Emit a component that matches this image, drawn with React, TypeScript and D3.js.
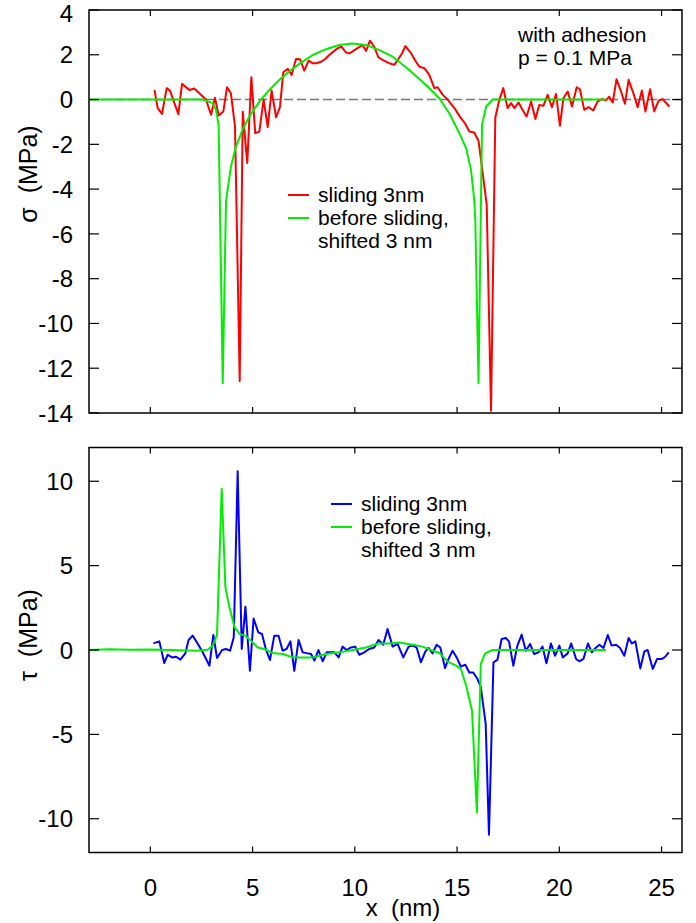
import React from 'react';
import * as d3 from 'd3';

// sigma panel (x in nm, value in MPa)
const sigmaSliding: [number, number][] = [
  [0.2, 0.43], [0.36, -0.38], [0.57, -0.64], [0.8, 0.51], [0.96, 0.4], [1.37, -0.65], [1.55, 0.7],
  [1.91, 0.43], [2.15, 0.49], [2.72, 0], [2.97, -0.68], [3.16, 0.08], [3.34, -0.71], [3.57, -0.53],
  [3.75, 0.55], [3.94, 0.28], [4.14, -1.2], [4.37, -12.57], [4.52, -0.55], [4.74, -2.83], [4.94, 1.0],
  [5.13, -1.5], [5.33, -1.43], [5.54, 0], [5.74, -1.23], [5.93, 0.4], [6.15, -0.79], [6.34, -0.34],
  [6.5, 1.22], [6.72, 1.37], [6.91, 1.1], [7.12, 1.81], [7.32, 1.8], [7.53, 1.29], [7.74, 1.74],
  [7.94, 1.62], [8.13, 1.62], [8.35, 1.69], [8.54, 1.8], [8.75, 1.99], [8.95, 2.14], [9.16, 2.29],
  [9.35, 2.36], [9.57, 2.1], [9.76, 2.07], [9.98, 2.21], [10.17, 2.32], [10.38, 2.44], [10.55, 2.17],
  [10.74, 2.63], [10.95, 2.36], [11.15, 1.89], [11.36, 1.77], [11.69, 1.62], [11.93, 1.55], [12.1, 1.77],
  [12.31, 2.07], [12.47, 2.39], [12.75, 2.07], [12.99, 1.69], [13.15, 1.47], [13.4, 1.4], [13.64, 1.1],
  [13.89, 0.51], [14.05, 0.55], [14.3, 0.21], [14.54, 0], [14.87, -0.38], [15.11, -0.73], [15.4, -1.08],
  [15.6, -1.43], [15.84, -1.47], [16.05, -1.85], [16.2, -2.9], [16.45, -4.7], [16.66, -13.9],
  [16.87, -0.8], [17.07, 0], [17.26, 0.51], [17.47, -0.38], [17.64, -0.16], [17.8, -0.38], [18.01, -0.13],
  [18.2, -0.46], [18.4, -0.76], [18.62, -0.09], [18.83, -0.87], [19.02, -0.24], [19.22, -0.28],
  [19.43, 0.21], [19.64, -0.34], [19.84, 0.25], [20.03, -1.17], [20.2, 0.06], [20.41, 0.36],
  [20.62, -0.31], [20.85, 0.55], [21.01, 0.46], [21.22, -0.46], [21.43, -0.34], [21.66, -0.49],
  [21.87, -0.09], [22.09, 0.02], [22.28, -0.04], [22.44, 0.13], [22.61, -0.13], [22.8, 0.91],
  [23.02, 0.36], [23.21, -0.19], [23.39, 0.88], [23.62, 0.29], [23.83, -0.34], [24.04, 0.4],
  [24.21, -0.53], [24.44, 0.46], [24.64, -0.53], [24.86, -0.04], [25.05, 0.02], [25.38, -0.31],
];

const sigmaBefore: [number, number][] = [
  [-3, 0], [2.56, 0], [3.05, -0.16], [3.21, -0.46], [3.34, -1.13], [3.54, -12.67], [3.7, -4.55],
  [3.94, -2.99], [4.19, -2.09], [4.51, -1.35], [4.84, -0.76], [5.0, -0.53], [5.41, 0], [5.82, 0.43],
  [6.31, 0.88], [6.88, 1.32], [7.37, 1.65], [7.94, 1.99], [8.59, 2.25], [9.24, 2.44], [9.89, 2.5],
  [10.55, 2.44], [11.2, 2.21], [11.85, 1.92], [12.66, 1.32], [13.48, 0.65], [14.13, 0.06],
  [14.62, -0.61], [15.11, -1.5], [15.44, -2.17], [15.68, -3.13], [15.84, -4.47], [15.89, -5.36],
  [16.05, -12.67], [16.22, -1.13], [16.42, -0.31], [16.74, 0], [22.3, 0],
];

// tau panel
const tauSliding: [number, number][] = [
  [0.15, 0.39], [0.44, 0.51], [0.68, -0.77], [0.85, -0.28], [1.06, -0.44], [1.26, -0.4], [1.47, -0.57],
  [1.71, -0.2], [1.87, 0.59], [2.07, 0.85], [2.31, 0.39], [2.52, -0.04], [2.69, -0.44], [2.89, -0.93],
  [3.08, 0.89], [3.26, -0.47], [3.51, 0], [3.7, 0.06], [3.9, -0.04], [4.08, 0.75], [4.27, 10.59],
  [4.47, 0.06], [4.65, 2.57], [4.87, -1.23], [5.05, 1.87], [5.28, 1.04], [5.46, 0.95], [5.66, 0],
  [5.85, -0.59], [6.06, 0.85], [6.27, 0.85], [6.47, -0.04], [6.66, 0.06], [6.85, 0.51], [7.04, -1.23],
  [7.25, 0.59], [7.45, -0.14], [7.69, -0.2], [7.86, -0.24], [8.02, -0.63], [8.22, 0], [8.43, -0.67],
  [8.62, -0.14], [8.83, -0.14], [9.0, -0.14], [9.21, -0.44], [9.4, 0.2], [9.6, 0], [9.81, 0.15],
  [10.02, 0.2], [10.22, -0.28], [10.46, -0.14], [10.7, 0.06], [10.95, 0.15], [11.16, 0.59],
  [11.39, 0.31], [11.6, 1.24], [11.85, 0.2], [12.09, 0.36], [12.37, -0.44], [12.63, 0.2], [12.82, 0.26],
  [13.02, 0.16], [13.23, -0.73], [13.45, -0.08], [13.61, 0.12], [13.8, -0.2], [14.0, 0.31], [14.18, 0.15],
  [14.41, -1.07], [14.58, -0.53], [14.78, -0.04], [14.98, -0.44], [15.19, -0.99], [15.4, -0.87],
  [15.6, -1.33], [15.79, -1.33], [16.0, -1.72], [16.16, -2.18], [16.4, -4.39], [16.56, -10.95],
  [16.78, -0.73], [16.97, -0.59], [17.18, 0.65], [17.38, 0.71], [17.54, 0.51], [17.75, -0.93],
  [17.95, 0.26], [18.16, 0.91], [18.36, -0.04], [18.57, 0.36], [18.77, -0.24], [18.98, -0.14],
  [19.18, 0.2], [19.37, -0.79], [19.59, 0.39], [19.79, -0.34], [20.0, 0.26], [20.17, -0.44],
  [20.41, -0.2], [20.58, 0.39], [20.82, -0.53], [20.98, -0.67], [21.18, -0.53], [21.4, 0.39],
  [21.59, -0.14], [21.77, 0.12], [21.96, 0.31], [22.16, 0.12], [22.37, 0.89], [22.56, 0.26],
  [22.78, 0.31], [22.97, 0.12], [23.18, -0.34], [23.39, 0.71], [23.55, 0.39], [23.72, 0.51],
  [23.96, -1.09], [24.16, -0.08], [24.32, 0], [24.57, -1.13], [24.78, -0.53], [25.02, -0.53],
  [25.18, -0.4], [25.35, -0.14],
];

const tauBefore: [number, number][] = [
  [-3, 0], [-2, 0.05], [-1, 0.02], [0, 0.03], [1, 0], [2.23, -0.04], [2.8, 0.02], [3.05, 0.26],
  [3.26, 0.89], [3.49, 9.54], [3.67, 3.71], [3.87, 2.53], [4.12, 1.34], [4.36, 0.95], [4.65, 0.85],
  [4.92, 0.55], [5.25, 0.15], [5.57, 0.06], [5.98, -0.18], [6.47, -0.24], [6.96, -0.44], [7.45, -0.44],
  [7.94, -0.44], [8.59, -0.24], [9.24, -0.14], [9.89, 0], [10.55, 0.15], [11.16, 0.39], [11.69, 0.39],
  [12.18, 0.45], [12.83, 0.31], [13.31, 0.2], [13.8, -0.04], [14.13, -0.16], [14.54, -0.69],
  [14.95, -0.93], [15.19, -1.13], [15.47, -2.22], [15.73, -3.6], [15.97, -9.63], [16.16, -0.83],
  [16.37, -0.2], [16.74, 0], [22.28, 0],
];

const xTicks = [0, 5, 10, 15, 20, 25];
const sigmaTicks = [4, 2, 0, -2, -4, -6, -8, -10, -12, -14];
const tauTicks = [10, 5, 0, -5, -10];

const FONT = 'Liberation Sans, Arial, Helvetica, sans-serif';
const GREEN = '#00ee00';

const x = d3.scaleLinear().domain([-3, 26]).range([89, 682]);
const yTop = d3.scaleLinear().domain([-14, 4]).range([413, 10]);
const yBot = d3.scaleLinear().domain([-12, 12]).range([852.5, 447.5]);

function Frame({ y, ticks }: { y: d3.ScaleLinear<number, number>; ticks: number[] }) {
  const [x0, x1] = x.range();
  const [yb, yt] = y.range();
  return (
    <g>
      <rect x={x0} y={yt} width={x1 - x0} height={yb - yt} fill="none" stroke="#000" strokeWidth={1.5} />
      {xTicks.map((t) => (
        <g key={'x' + t}>
          <line x1={x(t)} x2={x(t)} y1={yt} y2={yt + 6} stroke="#000" strokeWidth={1.2} />
          <line x1={x(t)} x2={x(t)} y1={yb} y2={yb - 6} stroke="#000" strokeWidth={1.2} />
        </g>
      ))}
      {ticks.map((t) => (
        <g key={'y' + t}>
          <line x1={x0} x2={x0 + 10} y1={y(t)} y2={y(t)} stroke="#000" strokeWidth={1.2} />
          <line x1={x1} x2={x1 - 10} y1={y(t)} y2={y(t)} stroke="#000" strokeWidth={1.2} />
          {/* the top label would be clipped, so it sits a little lower */}
          <text x={73} y={Math.max(y(t), 13)} dy="0.36em" textAnchor="end" fontSize={24} fontFamily={FONT}>{t}</text>
        </g>
      ))}
    </g>
  );
}

function Legend({ lx, ly, color }: { lx: number; ly: number; color: string }) {
  return (
    <g fontFamily={FONT} fontSize={21}>
      <line x1={lx} x2={lx + 21} y1={ly} y2={ly} stroke={color} strokeWidth={2} />
      <text x={lx + 30} y={ly + 7}>sliding 3nm</text>
      <line x1={lx} x2={lx + 21} y1={ly + 23} y2={ly + 23} stroke={GREEN} strokeWidth={2} />
      <text x={lx + 30} y={ly + 30}>before sliding,</text>
      <text x={lx + 30} y={ly + 53}>shifted 3 nm</text>
    </g>
  );
}

export default function App() {
  const lineTop = d3.line<[number, number]>().x((d) => x(d[0])).y((d) => yTop(d[1]));
  const lineBot = d3.line<[number, number]>().x((d) => x(d[0])).y((d) => yBot(d[1]));
  return (
    <svg width={696} height={923} style={{ position: 'absolute', left: 0, top: 0, background: '#fff' }}>
      <line x1={x(-3)} x2={x(26)} y1={yTop(0)} y2={yTop(0)} stroke="#777" strokeWidth={1.5} strokeDasharray="9,4" />
      <path d={lineTop(sigmaSliding) || ''} fill="none" stroke="#ff0000" strokeWidth={2} strokeLinejoin="round" />
      <path d={lineTop(sigmaBefore) || ''} fill="none" stroke={GREEN} strokeWidth={2} strokeLinejoin="round" />
      <path d={lineBot(tauSliding) || ''} fill="none" stroke="#0000ff" strokeWidth={2} strokeLinejoin="round" />
      <path d={lineBot(tauBefore) || ''} fill="none" stroke={GREEN} strokeWidth={2} strokeLinejoin="round" />
      <Frame y={yTop} ticks={sigmaTicks} />
      <Frame y={yBot} ticks={tauTicks} />
      <Legend lx={288} ly={195} color="#ff0000" />
      <Legend lx={331} ly={504} color="#0000ff" />
      <g fontFamily={FONT} fontSize={21}>
        <text x={518} y={42}>with adhesion</text>
        <text x={518} y={65}>p = 0.1 MPa</text>
      </g>
      <g fontFamily={FONT} fontSize={24}>
        {xTicks.map((t) => (
          <text key={t} x={x(t)} y={896} textAnchor="middle">{t}</text>
        ))}
        <text x={403} y={916} textAnchor="middle">{'x \u00a0(nm)'}</text>
        <text transform="translate(37,174) rotate(-90)" textAnchor="middle" fontSize={25}>{'σ \u00a0(MPa)'}</text>
        <text transform="translate(37,635) rotate(-90)" textAnchor="middle" fontSize={25}>{'τ \u00a0(MPa)'}</text>
      </g>
    </svg>
  );
}
